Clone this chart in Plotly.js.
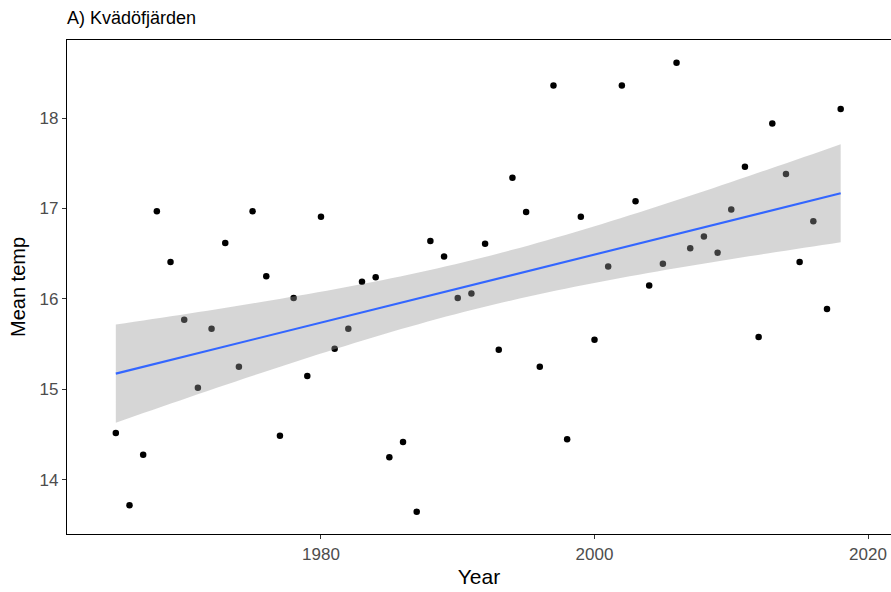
<!DOCTYPE html>
<html>
<head>
<meta charset="utf-8">
<script src="https://cdn.plot.ly/plotly-3.0.1.min.js"></script>
<style>html,body{margin:0;padding:0;background:#fff;}#chart{width:891px;height:592px;}</style>
</head>
<body>
<div id="chart"></div>
<script>
const years = [1965,1966,1967,1968,1969,1970,1971,1972,1973,1974,1975,1976,1977,1978,1979,
  1980,1981,1982,1983,1984,1985,1986,1987,1988,1989,1990,1991,1992,1993,1994,1995,1996,1997,1998,1999,
  2000,2001,2002,2003,2004,2005,2006,2007,2008,2009,2010,2011,2012,2013,2014,2015,2016,2017,2018];
const meanTemp = [14.52,13.72,14.28,16.97,16.41,15.77,15.02,15.67,16.62,15.25,16.97,16.25,14.49,16.01,15.15,
  16.91,15.45,15.67,16.19,16.24,14.25,14.42,13.65,16.64,16.47,16.01,16.06,16.61,15.44,17.34,16.96,15.25,18.36,14.45,16.91,
  15.55,16.36,18.36,17.08,16.15,16.39,18.61,16.56,16.69,16.51,16.99,17.46,15.58,17.94,17.38,16.41,16.86,15.89,18.10];
const xTicks = [1980, 2000, 2020];
const yTicks = [14, 15, 16, 17, 18];
const titleText = "A) Kvädöfjärden";

// linear model fit with 95% confidence band (like geom_smooth(method = "lm"))
const n = years.length;
const mx = years.reduce((a,b)=>a+b,0)/n;
const my = meanTemp.reduce((a,b)=>a+b,0)/n;
let sxx=0, sxy=0;
for (let i=0;i<n;i++){ sxx += (years[i]-mx)**2; sxy += (years[i]-mx)*(meanTemp[i]-my); }
const b1 = sxy/sxx, b0 = my - b1*mx;
let sse=0;
for (let i=0;i<n;i++){ sse += (meanTemp[i]-(b0+b1*years[i]))**2; }
const s = Math.sqrt(sse/(n-2));
const tq = 2.00665; // qt(0.975, 52)
const fx=[], fy=[], lo=[], hi=[];
const xmin = Math.min(...years), xmax = Math.max(...years);
for (let k=0;k<80;k++){
  const x = xmin + (xmax-xmin)*k/79;
  const yhat = b0 + b1*x;
  const se = s*Math.sqrt(1/n + (x-mx)**2/sxx);
  fx.push(x); fy.push(yhat); lo.push(yhat - tq*se); hi.push(yhat + tq*se);
}
const bandX = fx.concat(fx.slice().reverse());
const bandY = hi.concat(lo.slice().reverse());

const font = "Liberation Sans, Arial, sans-serif";
const traces = [
  {x: years, y: meanTemp, type:'scatter', mode:'markers',
   marker:{color:'#000000', size:6.5}, hoverinfo:'none'},
  {x: bandX, y: bandY, type:'scatter', mode:'none', fill:'toself',
   fillcolor:'rgba(153,153,153,0.4)', hoverinfo:'none'},
  {x: fx, y: fy, type:'scatter', mode:'lines',
   line:{color:'#3366FF', width:2.1}, hoverinfo:'none'}
];
const layout = {
  width: 891, height: 592,
  margin: {l:67, r:0, t:40, b:58},
  paper_bgcolor:'#ffffff', plot_bgcolor:'#ffffff',
  showlegend:false,
  font:{family:font, color:'#000'},
  title:{text:titleText, font:{family:font, size:18, color:'#000'},
    x:0, xref:'paper', xanchor:'left', y:1-18/592, yref:'container', yanchor:'middle'},
  xaxis:{range:[1961.43, 2021.68], tickvals:xTicks, ticktext:xTicks.map(String),
    showgrid:false, zeroline:false, showline:true, mirror:true, linecolor:'#000', linewidth:1.2,
    ticks:'outside', ticklen:4, tickwidth:1, tickcolor:'#333',
    tickfont:{family:font, size:17, color:'#4D4D4D'},
    title:{text:'Year', font:{family:font, size:21, color:'#000'}, standoff:6}, automargin:false},
  yaxis:{range:[13.403, 18.862], tickvals:yTicks, ticktext:yTicks.map(String),
    showgrid:false, zeroline:false, showline:true, mirror:false, linecolor:'#000', linewidth:1.2,
    ticks:'outside', ticklen:4, tickwidth:1, tickcolor:'#333',
    tickfont:{family:font, size:17, color:'#4D4D4D'},
    title:{text:'Mean temp', font:{family:font, size:20, color:'#000'}, standoff:8}, automargin:false}
};
Plotly.newPlot('chart', traces, layout, {displayModeBar:false, staticPlot:true});
</script>
</body>
</html>
